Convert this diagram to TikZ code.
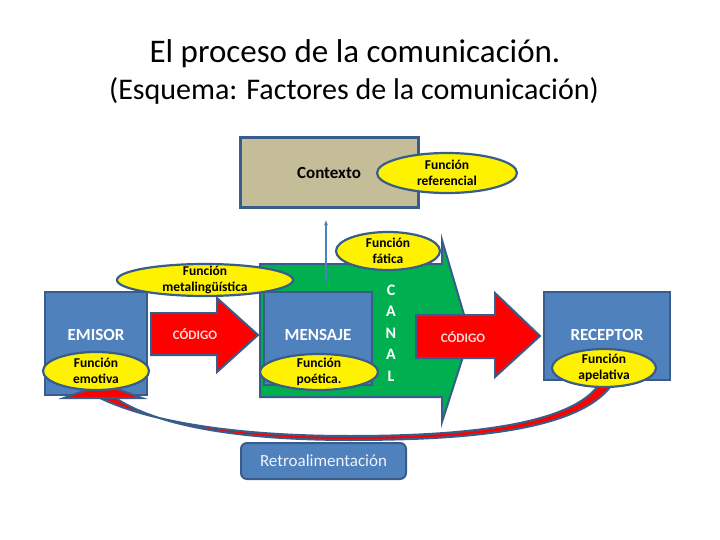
\documentclass[tikz,border=0pt]{standalone}
\usepackage{fontspec}
\setmainfont{Carlito}
\usetikzlibrary{shapes.geometric,arrows.meta}
\definecolor{boxblue}{RGB}{79,129,189}
\definecolor{edgeblue}{RGB}{56,93,138}
\definecolor{ctxtan}{RGB}{196,189,151}
\definecolor{canalgreen}{RGB}{0,176,80}
\definecolor{codered}{RGB}{255,0,0}
\definecolor{codetext}{RGB}{255,214,214}
\tikzset{
  factor/.style={draw=edgeblue, line width=2.5pt, fill=boxblue, inner sep=0pt},
  factortxt/.style={text=white, font=\fontsize{17}{20}\selectfont\bfseries},
  funcion/.style={ellipse, draw=edgeblue, line width=2.2pt, fill=yellow, align=center,
    inner sep=-4pt, font=\fontsize{13.5}{16}\selectfont\bfseries},
  bloque/.style={draw=edgeblue, line width=2pt},
  codigo/.style={text=codetext, font=\fontsize{13}{15}\selectfont\bfseries},
}
\begin{document}
\begin{tikzpicture}[x=1pt, y=-1pt]
\useasboundingbox (0,0) rectangle (720,540);

\node[anchor=base] (titulo) at (355,63) {\fontsize{33}{40}\selectfont El proceso de la comunicación.};
\node[anchor=base] (subtitulo) at (354,100) {\fontsize{30}{36}\selectfont (Esquema: Factores de la comunicación)};

\node[factor, fill=ctxtan, line width=3pt, minimum width=178, minimum height=70,
  font=\fontsize{17}{20}\selectfont\bfseries] (ctx) at (329,173) {Contexto};
\node[funcion, minimum width=140, minimum height=40] (ref) at (447,173) {Función\\referencial};

\path[bloque, fill=canalgreen] (260,264) -- (442,264) -- (442,240) -- (470,335) -- (442,422)
  -- (442,397) -- (260,397) -- cycle;
\coordinate (canaltop) at (326,281);
\draw[draw=boxblue, line width=1.2pt, -{Stealth[length=5pt,width=4pt]}, shorten >=11pt]
  (canaltop) -- (canaltop |- ctx.south);
\node[funcion, minimum width=104, minimum height=38] (fatica) at (388,251) {Función\\fática};
\node[text=white, align=center, font=\fontsize{16}{21.5}\selectfont\bfseries] (canal) at (391,333) {C\\A\\N\\A\\L};

\path[bloque, fill=codered] (151,313) -- (217,313) -- (217,298) -- (258,335) -- (217,372)
  -- (217,355) -- (151,355) -- cycle;
\node[codigo] (cod1) at (195,334) {CÓDIGO};
\path[bloque, fill=codered] (416,315) -- (495,315) -- (495,293) -- (540,336) -- (495,377)
  -- (495,358) -- (416,358) -- cycle;
\node[codigo] (cod2) at (463,337) {CÓDIGO};

\node[factor, minimum width=102, minimum height=103] (emisor) at (96,343.5) {};
\node[factortxt] (emisortxt) at (96,335) {EMISOR};
\node[factor, minimum width=108, minimum height=93] (mensaje) at (318,338.5) {};
\node[factortxt] (mensajetxt) at (318,335) {MENSAJE};
\node[factor, minimum width=126, minimum height=88] (receptor) at (607,336) {};
\node[factortxt] (receptortxt) at (607,335) {RECEPTOR};

\node[funcion, minimum width=176, minimum height=32] (meta) at (205,280) {Función\\metalingüística};

\path[bloque, fill=codered] (98,397) .. controls (146,421) and (232,436) .. (350,436)
  .. controls (450,436) and (566,428) .. (598,386) -- (611,386)
  .. controls (576,432) and (462,440) .. (350,440)
  .. controls (240,440) and (156,426) .. (114,397) -- cycle;
\path[bloque, fill=codered] (64,398) -- (142,398) -- (103,384) -- cycle;

\node[funcion, minimum width=106, minimum height=38] (emo) at (96,371) {Función\\emotiva};
\node[funcion, minimum width=118, minimum height=36] (poe) at (319,372) {Función\\poética.};
\node[funcion, minimum width=104, minimum height=38] (ape) at (604,368) {Función\\apelativa};

\node[draw=edgeblue, line width=2pt, fill=boxblue, rounded corners=6pt, minimum width=165,
  minimum height=36, text={rgb,255:red,240;green,243;blue,250},
  font=\fontsize{17}{20}\selectfont] (retro) at (323.5,461) {Retroalimentación};
\end{tikzpicture}
\end{document}
